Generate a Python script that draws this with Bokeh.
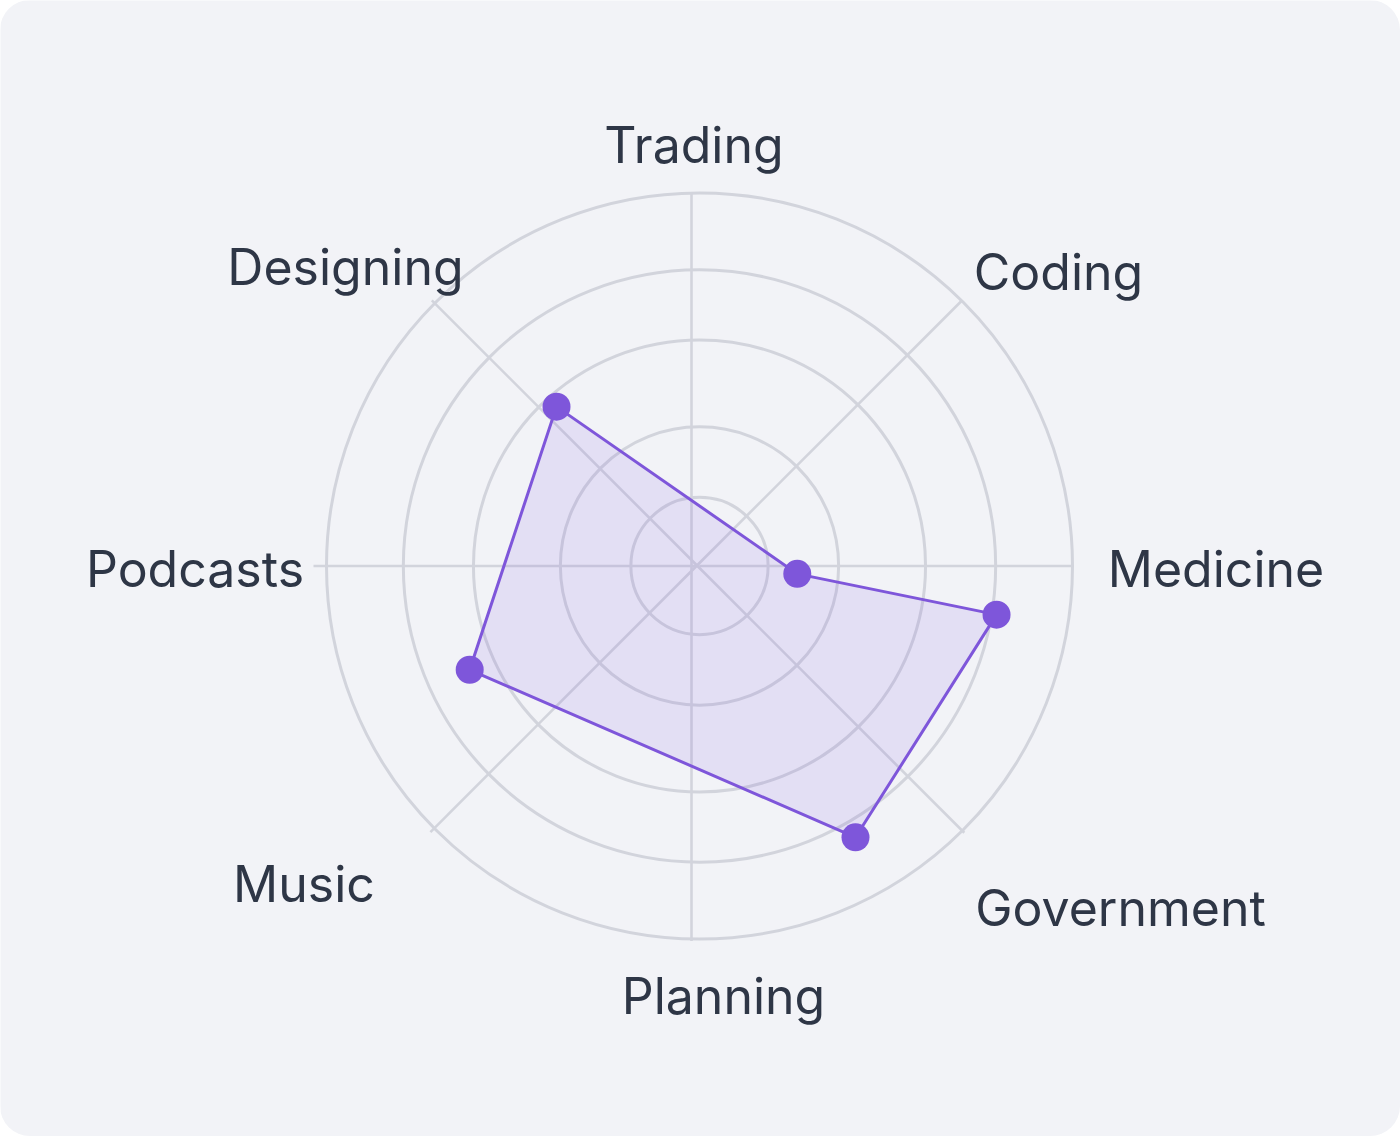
import math
from bokeh.plotting import figure
from bokeh.models import Range1d, ColumnDataSource, GlobalInlineStyleSheet
from bokeh.core.properties import value
from bokeh.embed import file_html
from bokeh.resources import INLINE

# ---------------- data ----------------
categories = ["Trading", "Coding", "Medicine", "Government",
              "Planning", "Music", "Podcasts", "Designing"]
axis_angles = [0, 45, 90, 135, 180, 225, 270, 315]          # compass degrees
ring_values = [18.4, 37.3, 60.6, 79.4, 100.0]                # grid circles
point_angles = [318.1, 94.6, 99.3, 150.1, 245.7]             # compass degrees
point_values = [57.4, 26.3, 80.7, 83.9, 67.6]

# ---------------- layout / style ----------------
W, H = 1400, 1136
CX, CY = 699.0, 565.5        # pixel centre of the rings
K = 3.73                     # pixels per value unit (100 -> 373 px)

PURPLE = "#7E56DA"
GRID = "#D2D4DC"
TEXT = "#2E3646"
BG = "#F2F3F7"

def px2d(px, py):
    return (px - CX) / K, (CY - py) / K

# spoke hubs (pixel offsets) and lengths (pixels) per axis
spoke_hub = {"Trading": (-8, 0), "Planning": (-8, 0),
             "Medicine": (0, 0), "Podcasts": (0, 0),
             "Coding": (-2.5, -0.5), "Government": (-2.5, -0.5),
             "Music": (-2.5, -0.5), "Designing": (-2.5, -0.5)}
spoke_len = {"Trading": 374, "Planning": 375, "Medicine": 374, "Podcasts": 386,
             "Coding": 374, "Government": 378, "Music": 377, "Designing": 375}
# label anchor positions (pixel, centre / baseline)
LBL_DY = -19
label_pos = {"Trading": (693.5, 163), "Coding": (1058, 290),
             "Medicine": (1215.5, 587), "Government": (1120, 926),
             "Planning": (723, 1014), "Music": (303.5, 902),
             "Podcasts": (194.5, 587), "Designing": (345, 285)}

p = figure(width=W, height=H, output_backend="svg", toolbar_location=None,
           x_range=Range1d(-CX / K, (W - CX) / K),
           y_range=Range1d(-(H - CY) / K, CY / K),
           x_axis_location=None, y_axis_location=None,
           min_border=0, background_fill_color=BG, border_fill_color=BG,
           outline_line_color=None)
p.grid.visible = False
p.styles = {"border-radius": "30px", "overflow": "hidden"}
p.stylesheets = [GlobalInlineStyleSheet(
    css="html,body{margin:0;padding:0;overflow:hidden;background:#ffffff;}")]

# grid rings
p.circle(x=[0] * len(ring_values), y=[0] * len(ring_values), radius=ring_values,
         radius_dimension="x", fill_color=None, line_color=GRID, line_width=3)

# spokes
x0, y0, x1, y1 = [], [], [], []
for cat, ang in zip(categories, axis_angles):
    hx, hy = spoke_hub[cat]
    sx, sy = hx / K, -hy / K
    L = spoke_len[cat] / K
    a = math.radians(ang)
    x0.append(sx); y0.append(sy)
    x1.append(sx + L * math.sin(a)); y1.append(sy + L * math.cos(a))
p.segment(x0=x0, y0=y0, x1=x1, y1=y1, line_color=GRID, line_width=2.6)

# data polygon
px = [v * math.sin(math.radians(a)) for a, v in zip(point_angles, point_values)]
py = [v * math.cos(math.radians(a)) for a, v in zip(point_angles, point_values)]
p.patch(px, py, fill_color=PURPLE, fill_alpha=0.12, line_color=None)
p.line(px + px[:1], py + py[:1], line_color=PURPLE, line_width=3)
p.scatter(px, py, size=28, fill_color=PURPLE, line_color=None)

# labels
lx, ly = [], []
for cat in categories:
    x, y = px2d(label_pos[cat][0], label_pos[cat][1] + LBL_DY)
    lx.append(x); ly.append(y)
src = ColumnDataSource(dict(x=lx, y=ly, t=categories))
p.text(x="x", y="y", text="t", source=src, text_font=value("Inter"),
       text_font_size="50px", text_color=TEXT, text_align="center",
       text_baseline="alphabetic")

open("out.html", "w").write(file_html(p, INLINE))
